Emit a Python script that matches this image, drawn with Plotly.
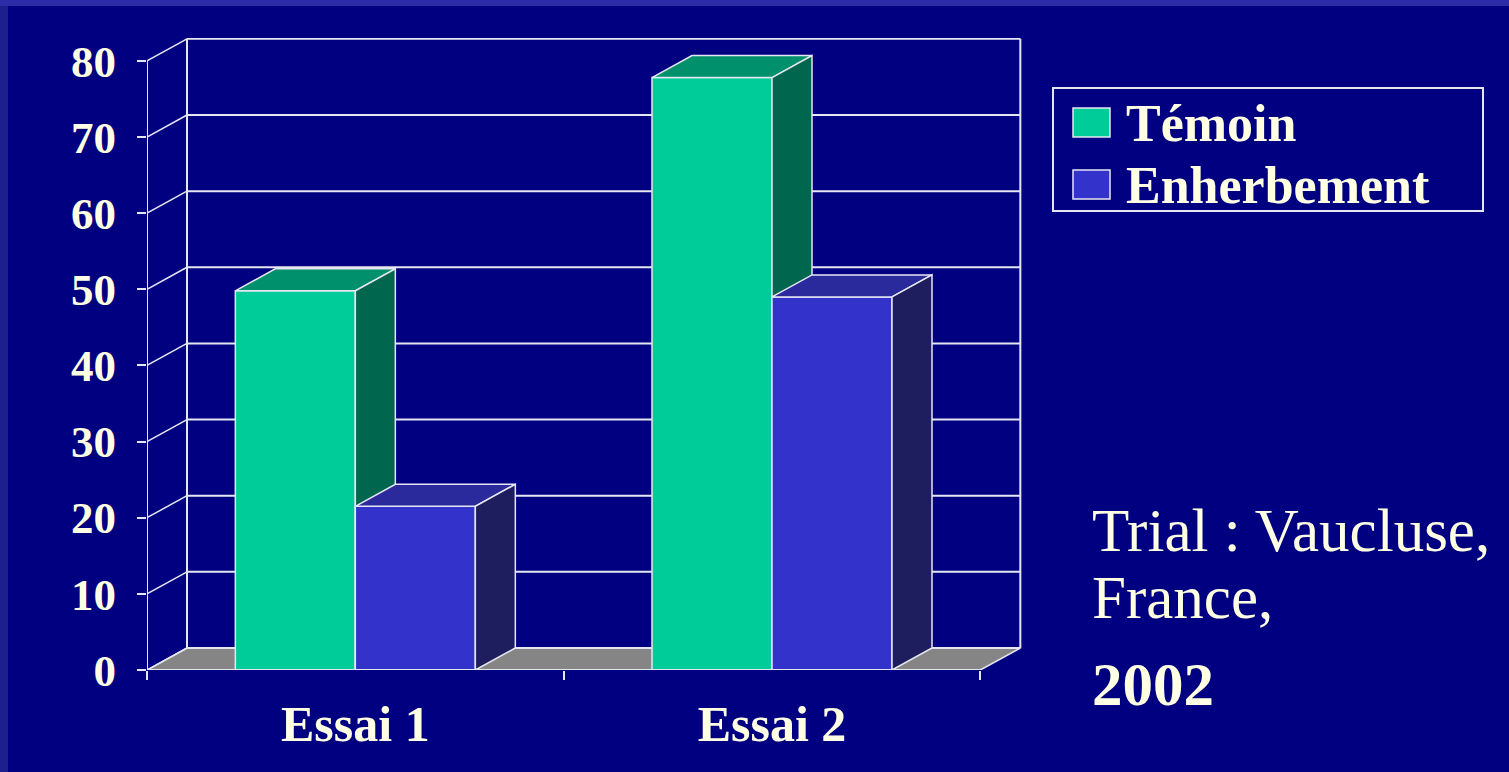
import plotly.graph_objects as go

# ---------------- data ----------------
categories = ["Essai 1", "Essai 2"]
series_names = ["Témoin", "Enherbement"]
temoin = [49.8, 77.8]
enherbement = [21.5, 49.0]
y_ticks = [0, 10, 20, 30, 40, 50, 60, 70, 80]
note_lines = ["Trial : Vaucluse,", "France,", "2002"]

# ---------------- layout constants ----------------
W, H = 1509, 772
ML, MR, MT, MB = 147, 487, 38, 102
XMAX = 2.1
YMAX = 83.0
PLOT_W = W - ML - MR
PLOT_H = H - MT - MB
PX_X = PLOT_W / XMAX
PX_Y = PLOT_H / YMAX
DX = 40 / PX_X          # 3D depth offset (x units)
DY = 22 / PX_Y          # 3D depth offset (y units)
BAR_W = 0.288
NCAT = len(categories)
YTOP = max(y_ticks)

BG = "#000080"
TXT = "#FFFFE3"
LINE = "#E6E6F2"
FLOOR = "#858585"
FRONT = ["#00CC99", "#3333CC"]
TOP = ["#00906C", "#2A2A9C"]
SIDE = ["#00664D", "#1E1E5E"]
FONT = "Liberation Serif"


def pxx(p):
    return (p - ML) / PLOT_W


def pxy(p):
    return (H - MB - p) / PLOT_H


fig = go.Figure()

centers = [i + 0.5 for i in range(NCAT)]
series_vals = [temoin, enherbement]
offsets = [-BAR_W, 0.0]
axes = [("x", "y"), ("x2", "y2")]

for s, (name, vals) in enumerate(zip(series_names, series_vals)):
    xa, ya = axes[s]
    fig.add_trace(go.Bar(
        x=centers, y=vals, width=BAR_W, offset=offsets[s], name=name,
        marker=dict(color=FRONT[s], line=dict(color=LINE, width=1.5)),
        xaxis=xa, yaxis=ya, showlegend=False, hoverinfo="skip"))
    for c, v in zip(centers, vals):
        x0 = c + offsets[s]
        x1 = x0 + BAR_W
        # top face
        fig.add_trace(go.Scatter(
            x=[x0, x1, x1 + DX, x0 + DX, x0], y=[v, v, v + DY, v + DY, v],
            fill="toself", fillcolor=TOP[s], mode="lines",
            line=dict(color=LINE, width=1.5), xaxis=xa, yaxis=ya,
            showlegend=False, hoverinfo="skip"))
        # side face
        fig.add_trace(go.Scatter(
            x=[x1, x1, x1 + DX, x1 + DX, x1], y=[0, v, v + DY, DY, 0],
            fill="toself", fillcolor=SIDE[s], mode="lines",
            line=dict(color=LINE, width=1.5), xaxis=xa, yaxis=ya,
            showlegend=False, hoverinfo="skip"))

shapes = []
# background decorations
shapes.append(dict(type="rect", xref="paper", yref="paper", x0=pxx(0), x1=pxx(W),
                   y0=pxy(6), y1=pxy(0), fillcolor="#2C2CA6", line_width=0, layer="below"))
shapes.append(dict(type="rect", xref="paper", yref="paper", x0=pxx(0), x1=pxx(8),
                   y0=pxy(H), y1=pxy(6), fillcolor="#1E1E8C", line_width=0, layer="below"))
# floor
shapes.append(dict(type="path", xref="x", yref="y",
                   path=f"M0,0 L{NCAT},0 L{NCAT + DX},{DY} L{DX},{DY} Z",
                   fillcolor=FLOOR, line=dict(color=LINE, width=1.5), layer="below"))
# back wall gridlines + diagonals
for v in y_ticks:
    shapes.append(dict(type="line", xref="x", yref="y", x0=DX, x1=NCAT + DX,
                       y0=v + DY, y1=v + DY, line=dict(color=LINE, width=2), layer="below"))
    shapes.append(dict(type="line", xref="x", yref="y", x0=0, x1=DX,
                       y0=v, y1=v + DY, line=dict(color=LINE, width=1.5), layer="below"))
for xv in (DX, NCAT + DX):
    shapes.append(dict(type="line", xref="x", yref="y", x0=xv, x1=xv,
                       y0=DY, y1=YTOP + DY, line=dict(color=LINE, width=2), layer="below"))
# front axes
shapes.append(dict(type="line", xref="x", yref="y", x0=0, x1=0, y0=0, y1=YTOP,
                   line=dict(color=LINE, width=2)))
shapes.append(dict(type="line", xref="x", yref="y", x0=0, x1=NCAT, y0=0, y1=0,
                   line=dict(color=LINE, width=2)))

# manual legend
shapes.append(dict(type="rect", xref="paper", yref="paper", x0=pxx(1053), x1=pxx(1483),
                   y0=pxy(211), y1=pxy(88), line=dict(color=LINE, width=2), fillcolor=BG))
annotations = []
legend_rows = [(108, 137), (170, 199)]
for s, name in enumerate(series_names):
    t, b = legend_rows[s]
    shapes.append(dict(type="rect", xref="paper", yref="paper", x0=pxx(1073), x1=pxx(1110),
                       y0=pxy(b), y1=pxy(t), fillcolor=FRONT[s],
                       line=dict(color=LINE, width=1.5)))
    annotations.append(dict(xref="paper", yref="paper", x=pxx(1124), y=pxy((t + b) / 2 + 1),
                            xanchor="left", yanchor="middle", showarrow=False, text=name,
                            font=dict(family=FONT, size=52, color=TXT, weight="bold")))

# note text
note_y = [530, 597, 685]
for i, line in enumerate(note_lines):
    annotations.append(dict(xref="paper", yref="paper", x=pxx(1090), y=pxy(note_y[i]),
                            xanchor="left", yanchor="middle", showarrow=False, text=line,
                            font=dict(family=FONT, size=61, color=TXT,
                                      weight="bold" if i == 2 else "normal")))

fig.update_layout(
    width=W, height=H, margin=dict(l=ML, r=MR, t=MT, b=MB, pad=0),
    paper_bgcolor=BG, plot_bgcolor=BG, barmode="overlay",
    showlegend=False, shapes=shapes, annotations=annotations,
    xaxis=dict(range=[0, XMAX], tickvals=centers, ticktext=categories, ticks="",
               showgrid=False, zeroline=False, showline=False, fixedrange=True,
               tickfont=dict(family=FONT, size=50, color=TXT, weight="bold"),
               ticklabelstandoff=20,
               minor=dict(tickvals=list(range(NCAT + 1)), ticks="outside", ticklen=9,
                          tickwidth=2, tickcolor=LINE, showgrid=False)),
    yaxis=dict(range=[0, YMAX], tickvals=y_ticks, ticks="outside", ticklen=9, tickwidth=2,
               tickcolor=LINE, showgrid=False, zeroline=False, showline=False,
               fixedrange=True, ticklabelstandoff=12,
               tickfont=dict(family=FONT, size=45, color=TXT, weight="bold")),
    xaxis2=dict(overlaying="x", matches="x", visible=False),
    yaxis2=dict(overlaying="y", matches="y", visible=False),
)

fig.write_html(
    "out.html",
    config={"displayModeBar": False},
    post_script="document.body.style.margin='0';document.body.style.overflow='hidden';",
)
